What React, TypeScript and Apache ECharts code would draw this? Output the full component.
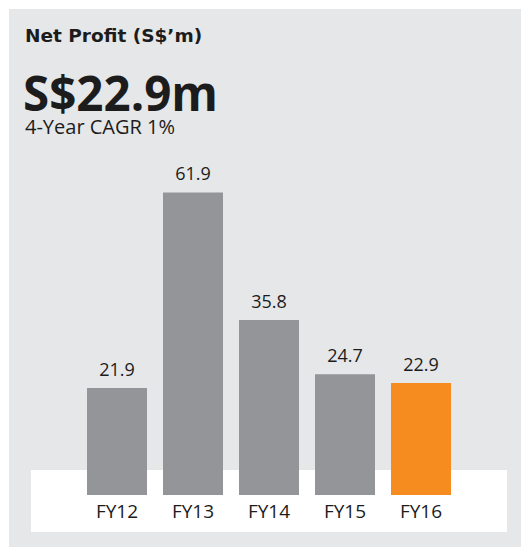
import React, { useEffect, useRef } from "react";
import * as echarts from "echarts";

const categories = ["FY12", "FY13", "FY14", "FY15", "FY16"];
const values = [21.9, 61.9, 35.8, 24.7, 22.9];
const highlightIndex = 4;
const titleText = "Net Profit (S$\u2019m)";
const headlineText = "S$22.9m";
const subText = "4-Year CAGR 1%";

const FONT = "'Open Sans', 'Noto Sans', sans-serif";
const GRAY = "#939598";
const ORANGE = "#f68b1f";
const PANEL = "#e6e7e8";
const TEXT = "#1c1c1c";

export default function App() {
  const ref = useRef<HTMLDivElement>(null);
  useEffect(() => {
    if (!ref.current) return;
    const chart = echarts.init(ref.current, undefined, { renderer: "svg" });
    chart.setOption({
      animation: false,
      backgroundColor: "#ffffff",
      graphic: [
        { type: "rect", z: -10, shape: { x: 9, y: 9, width: 512, height: 538 }, style: { fill: PANEL }, silent: true },
        { type: "rect", z: -9, shape: { x: 31, y: 470, width: 476, height: 62 }, style: { fill: "#ffffff" }, silent: true },
        { type: "text", x: 25, y: 35, style: { text: titleText, font: `bold 18.5px 'DejaVu Sans', sans-serif`, fill: TEXT, verticalAlign: "middle", align: "left" } },
        { type: "text", x: 23, y: 92, style: { text: headlineText, font: `bold 47.5px ${FONT}`, lineHeight: 40, fill: TEXT, verticalAlign: "middle", align: "left" } },
        { type: "text", x: 25, y: 126, style: { text: subText, font: `20px ${FONT}`, lineHeight: 20, fill: TEXT, verticalAlign: "middle", align: "left" } },
      ],
      grid: { left: 79, width: 380, top: 104, bottom: 52, containLabel: false },
      xAxis: {
        type: "category",
        data: categories,
        axisLine: { show: false },
        axisTick: { show: false },
        axisLabel: { fontFamily: FONT, fontSize: 19, color: TEXT, margin: 6 },
      },
      yAxis: { type: "value", min: 0, max: 80, show: false, splitLine: { show: false } },
      series: [
        {
          type: "bar",
          barWidth: 60,
          data: values.map((v, i) => ({
            value: v,
            itemStyle: { color: i === highlightIndex ? ORANGE : GRAY },
          })),
          label: {
            show: true,
            position: "top",
            distance: 10,
            fontFamily: FONT,
            fontSize: 18,
            color: TEXT,
            formatter: (p: any) => Number(p.value).toFixed(1),
          },
        },
      ],
    });
    return () => chart.dispose();
  }, []);
  return <div ref={ref} style={{ position: "absolute", left: 0, top: 0, width: 525, height: 547 }} />;
}
